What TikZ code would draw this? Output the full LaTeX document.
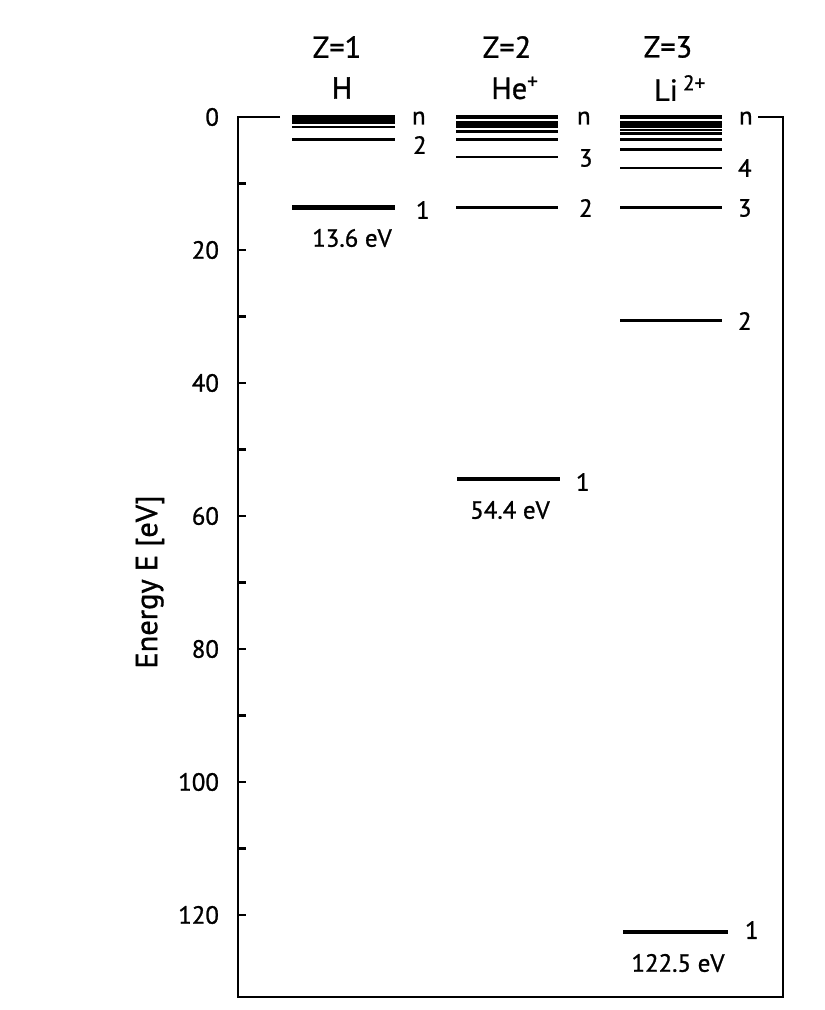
\documentclass[tikz,border=0pt]{standalone}
\usepackage{fontspec}
\setmainfont{PT Sans}[FakeBold=1]
\newcommand{\labfont}{\fontsize{18}{20}\selectfont}
\newcommand{\headfont}{\fontsize{22}{24}\selectfont}
\tikzset{
  level/.style={line width=1.7pt},
  ground/.style={line width=3pt},
  lbl/.style={font=\labfont, inner sep=0pt, anchor=west},
  head/.style={font=\headfont, inner sep=0pt},
}
\begin{document}
\begin{tikzpicture}[x=0.0254cm, y=-0.0254cm, line width=1.5pt]
\useasboundingbox (0,0) rectangle (825,1010);
% frame and energy scale
\draw (280,117) -- (238,117) -- (238,997) -- (783,997) -- (783,117) -- (758,117);
\foreach \e in {10,20,...,120} \draw (238,{117+6.65*\e}) -- (246,{117+6.65*\e});
\foreach \e in {0,20,...,120} \node[lbl, anchor=east] (t\e) at (220,{117+6.65*\e}) {\e};
\node[font=\fontsize{22}{24}\selectfont, rotate=90] (ylab) at (150,582) {Energy E [eV]};
% headers
\node[head] (zH) at (337,47) {Z=1};
\node[head] (nH) at (342,88) {H};
\node[head] (zHe) at (507,47) {Z=2};
\node[head] (nHe) at (515,88) {He\textsuperscript{+}};
\node[head] (zLi) at (668,47) {Z=3};
\node[head] (nLi) at (680,88) {Li\,\textsuperscript{2+}};
% H levels
\foreach \n in {2,...,5} \draw[level] (292,{117+6.65*13.6/(\n*\n)}) -- (395,{117+6.65*13.6/(\n*\n)});
\draw[ground] (292,117) -- (395,117);
\draw[ground] (292,{117+6.65*13.6}) -- (395,{117+6.65*13.6});
\node[lbl] (Hn) at (411,118) {n};
\node[lbl] (H2) at (412,145) {2};
\node[lbl] (H1) at (415,210) {1};
\node[font=\labfont] (HE) at (352,238) {13.6 eV};
% He+ levels
\foreach \n in {2,...,8} \draw[level] (456,{117+6.65*54.4/(\n*\n)}) -- (558,{117+6.65*54.4/(\n*\n)});
\draw[ground] (456,117) -- (558,117);
\draw[ground] (457,{117+6.65*54.4}) -- (560,{117+6.65*54.4});
\node[lbl] (Hen) at (576,118) {n};
\node[lbl] (He3) at (578,158) {3};
\node[lbl] (He2) at (578,208) {2};
\node[lbl] (He1) at (575,482) {1};
\node[font=\labfont] (HeE) at (510,510) {54.4 eV};
% Li2+ levels
\foreach \n in {3,...,13} \draw[level] (620,{117+6.65*122.5/(\n*\n)}) -- (722,{117+6.65*122.5/(\n*\n)});
\draw[line width=2.2pt] (620,{117+6.65*122.5/4}) -- (722,{117+6.65*122.5/4});
\draw[ground] (620,117) -- (722,117);
\draw[ground] (623,{117+6.65*122.5}) -- (728,{117+6.65*122.5});
\node[lbl] (Lin) at (738,118) {n};
\node[lbl] (Li4) at (737,168) {4};
\node[lbl] (Li3) at (737,208) {3};
\node[lbl] (Li2) at (737,321) {2};
\node[lbl] (Li1) at (744,930) {1};
\node[font=\labfont] (LiE) at (678,963) {122.5 eV};
\end{tikzpicture}
\end{document}
